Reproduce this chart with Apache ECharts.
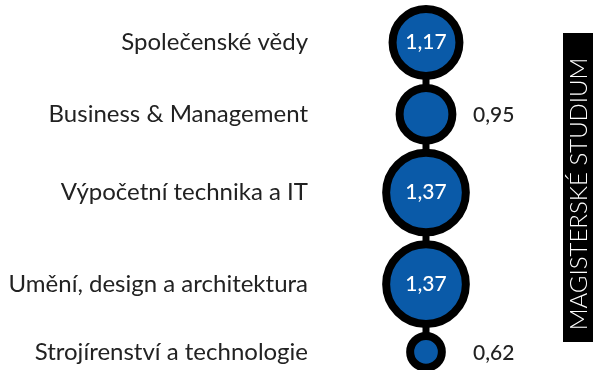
<!DOCTYPE html>
<html>
<head>
<meta charset="utf-8">
<script src="https://cdn.jsdelivr.net/npm/echarts@6/dist/echarts.min.js"></script>
<style>
  html, body { margin: 0; padding: 0; background: #fff; }
  #chart { width: 600px; height: 370px; }
</style>
</head>
<body>
<div id="chart"></div>
<script>
  const categories = [
    'Společenské vědy',
    'Business & Management',
    'Výpočetní technika a IT',
    'Umění, design a architektura',
    'Strojírenství a technologie'
  ];
  const values = [1.17, 0.95, 1.37, 1.37, 0.62];
  const panelTitle = 'MAGISTERSKÉ STUDIUM';

  // bubbles are chained along the axis: each takes up its own value in axis units
  const pxPerUnit = 64;
  const gap = 4 / pxPerUnit;
  const border = 8;

  let positions = [];
  let acc = 0;
  for (let i = 0; i < values.length; i++) {
    positions.push(acc + values[i] / 2);
    acc += values[i] + gap;
  }

  const fmt = v => v.toFixed(2).replace('.', ',');
  const pointData = values.map((v, i) => ({
    value: [0, positions[i]],
    raw: v,
    label: v >= 1
      ? { position: 'inside', color: '#fff' }
      : { position: 'inside', align: 'left', offset: [47, 1], color: '#222' }
  }));

  const myChart = echarts.init(document.getElementById('chart'));
  const option = {
    animation: false,
    grid: { left: 318, right: 66, top: 5, bottom: 0 },
    xAxis: {
      type: 'category',
      data: [''],
      show: false
    },
    yAxis: {
      type: 'value',
      inverse: true,
      min: 0,
      max: 365 / pxPerUnit,
      axisLine: { show: false },
      axisTick: { show: false },
      splitLine: { show: false },
      axisLabel: {
        customValues: positions,
        margin: 10,
        color: '#222',
        fontFamily: 'Lato',
        fontSize: 24,
        formatter: (val, idx) => categories[positions.indexOf(val)]
      }
    },
    series: [
      {
        type: 'line',
        data: positions.map(p => [0, p]),
        symbol: 'none',
        lineStyle: { color: '#000', width: 7 },
        z: 1
      },
      {
        type: 'scatter',
        data: pointData,
        symbolSize: (val, params) => values[params.dataIndex] * pxPerUnit - border,
        itemStyle: { color: '#0a5aa8', borderColor: '#000', borderWidth: border, opacity: 1 },
        label: {
          show: true,
          fontFamily: 'Lato',
          fontSize: 21,
          fontWeight: 500,
          formatter: p => fmt(p.data.raw)
        },
        z: 3
      }
    ],
    graphic: [
      {
        type: 'rect',
        left: 563,
        top: 33,
        shape: { width: 30, height: 309 },
        style: { fill: '#000' }
      },
      {
        type: 'text',
        x: 579,
        y: 194,
        rotation: Math.PI / 2,
        style: {
          text: panelTitle,
          fill: '#fff',
          font: '300 24px Lato',
          align: 'center',
          verticalAlign: 'middle'
        }
      }
    ]
  };
  myChart.setOption(option);
  window.addEventListener('resize', function () {
    myChart.resize();
  });
</script>
</body>
</html>
